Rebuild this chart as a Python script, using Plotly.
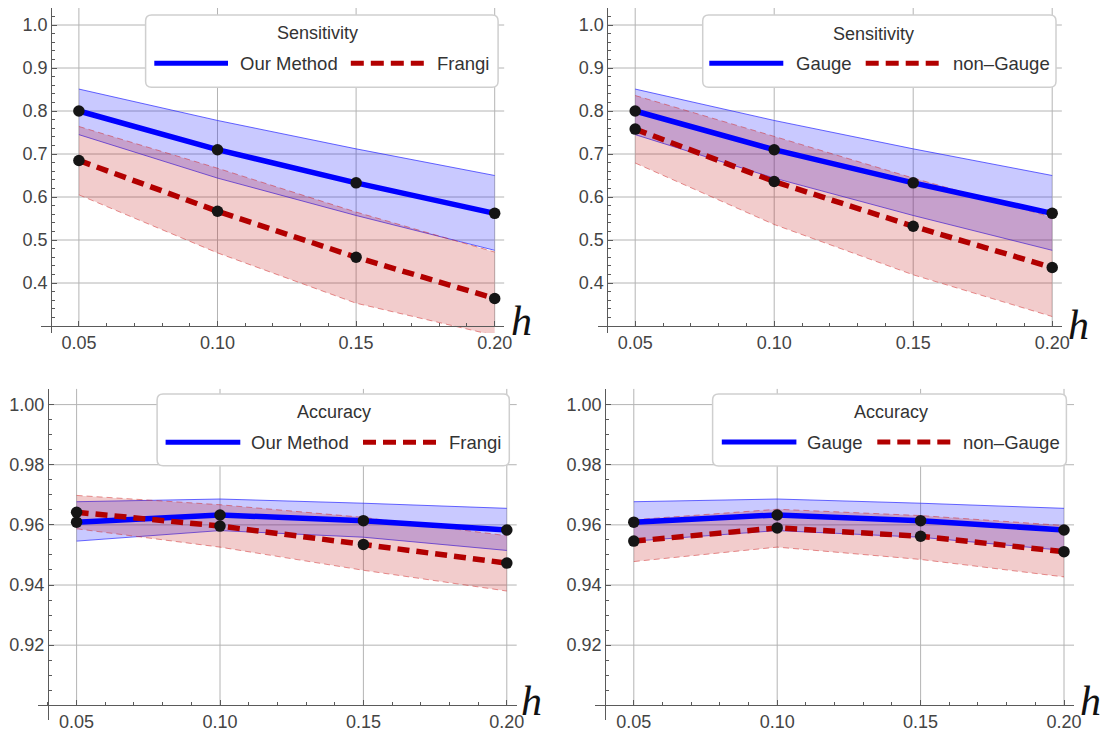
import plotly.graph_objects as go

# ---- data -------------------------------------------------------------
h_values = [0.05, 0.10, 0.15, 0.20]

# Sensitivity
sens_our_mean = [0.800, 0.710, 0.633, 0.562]
sens_our_lo = [0.745, 0.644, 0.557, 0.476]
sens_our_hi = [0.851, 0.778, 0.712, 0.650]

sens_frangi_mean = [0.685, 0.567, 0.460, 0.364]
sens_frangi_lo = [0.605, 0.470, 0.353, 0.278]
sens_frangi_hi = [0.764, 0.667, 0.565, 0.472]

sens_nongauge_mean = [0.758, 0.636, 0.532, 0.436]
sens_nongauge_lo = [0.679, 0.536, 0.419, 0.322]
sens_nongauge_hi = [0.836, 0.741, 0.644, 0.553]

# Accuracy
acc_our_mean = [0.9609, 0.9633, 0.9614, 0.9583]
acc_our_lo = [0.9546, 0.9581, 0.9559, 0.9515]
acc_our_hi = [0.9677, 0.9686, 0.9672, 0.9655]

acc_frangi_mean = [0.9642, 0.9596, 0.9535, 0.9473]
acc_frangi_lo = [0.9587, 0.9526, 0.9449, 0.9380]
acc_frangi_hi = [0.9698, 0.9667, 0.9625, 0.9564]

acc_nongauge_mean = [0.9546, 0.9590, 0.9562, 0.9511]
acc_nongauge_lo = [0.9478, 0.9526, 0.9485, 0.9427]
acc_nongauge_hi = [0.9617, 0.9652, 0.9631, 0.9598]

x_ticks = [0.05, 0.10, 0.15, 0.20]
x_tick_labels = ["0.05", "0.10", "0.15", "0.20"]
sens_ticks = [0.4, 0.5, 0.6, 0.7, 0.8, 0.9, 1.0]
sens_tick_labels = ["0.4", "0.5", "0.6", "0.7", "0.8", "0.9", "1.0"]
acc_ticks = [0.92, 0.94, 0.96, 0.98, 1.00]
acc_tick_labels = ["0.92", "0.94", "0.96", "0.98", "1.00"]

# ---- styling ----------------------------------------------------------
W, H = 1102, 731
BLUE = "rgb(0,0,255)"
RED = "rgb(178,0,0)"
BLUE_FILL = "rgba(0,0,255,0.21)"
RED_FILL = "rgba(190,0,0,0.20)"
BLUE_EDGE = "rgba(40,40,255,0.7)"
RED_EDGE = "rgba(210,40,40,0.5)"
GRID = "#b4b4b4"
AXIS = "#5a5a5a"
FONT = "Liberation Sans"
MAIN_DASH = "12px,7px"
TICK_FONT = dict(family=FONT, size=18, color="#444")

X_RANGE = [0.0365, 0.2035]


def px_x(p):
    return p / W


def px_y(p):
    return 1 - p / H


fig = go.Figure()
shapes = []
annotations = []

# panel geometry: pixel position of h=0.05, pixels per unit on x,
# pixel position of the horizontal axis, pixels per unit on y, y range, axis origin
panels = [
    dict(x05=78.9, xppu=2772, yax=326.0, yppu=430, yr=[0.2837, 1.0395], y0=0.3,
         yt=sens_ticks, ytl=sens_tick_labels, ymin_step=0.02,
         blue=(sens_our_mean, sens_our_lo, sens_our_hi),
         red=(sens_frangi_mean, sens_frangi_lo, sens_frangi_hi),
         title="Sensitivity", names=("Our Method", "Frangi"),
         box=(145.6, 15, 498.1, 87.3), tpos=(317.4, 33.3),
         bl=(154.3, 228.0, 63.3), l1=237.8, rl=(350.8, 426.2), l2=434.9,
         hpos=(521, 321)),
    dict(x05=635.2, xppu=2780, yax=326.0, yppu=430, yr=[0.2837, 1.0395], y0=0.3,
         yt=sens_ticks, ytl=sens_tick_labels, ymin_step=0.02,
         blue=(sens_our_mean, sens_our_lo, sens_our_hi),
         red=(sens_nongauge_mean, sens_nongauge_lo, sens_nongauge_hi),
         title="Sensitivity", names=("Gauge", "non–Gauge"),
         box=(702.7, 15, 1056.0, 87.3), tpos=(873.8, 34),
         bl=(709.3, 783.3, 63.3), l1=794.0, rl=(865.7, 940.0), l2=950.7,
         hpos=(1078, 325)),
    dict(x05=76.6, xppu=2868, yax=705.3, yppu=3007, yr=[0.895, 1.0053], y0=0.9,
         yt=acc_ticks, ytl=acc_tick_labels, ymin_step=0.005,
         blue=(acc_our_mean, acc_our_lo, acc_our_hi),
         red=(acc_frangi_mean, acc_frangi_lo, acc_frangi_hi),
         title="Accuracy", names=("Our Method", "Frangi"),
         box=(157.1, 394, 509.3, 465.7), tpos=(334.1, 411.7),
         bl=(165.6, 240.3, 442.3), l1=249.0, rl=(363.0, 438.4), l2=447.2,
         hpos=(531.4, 701)),
    dict(x05=633.8, xppu=2868, yax=705.3, yppu=3007, yr=[0.895, 1.0053], y0=0.9,
         yt=acc_ticks, ytl=acc_tick_labels, ymin_step=0.005,
         blue=(acc_our_mean, acc_our_lo, acc_our_hi),
         red=(acc_nongauge_mean, acc_nongauge_lo, acc_nongauge_hi),
         title="Accuracy", names=("Gauge", "non–Gauge"),
         box=(712.6, 394, 1066.4, 466), tpos=(890.6, 412),
         bl=(721.8, 796.4, 442), l1=805.2, rl=(877.3, 951.3), l2=961.1,
         hpos=(1090, 701)),
]


def rounded_box(x0, y0, x1, y1, r=6):
    X0, X1 = px_x(x0), px_x(x1)
    Y0, Y1 = px_y(y0), px_y(y1)
    rx, ry = r / W, r / H
    return (f"M{X0 + rx},{Y0} L{X1 - rx},{Y0} Q{X1},{Y0} {X1},{Y0 - ry} "
            f"L{X1},{Y1 + ry} Q{X1},{Y1} {X1 - rx},{Y1} "
            f"L{X0 + rx},{Y1} Q{X0},{Y1} {X0},{Y1 + ry} "
            f"L{X0},{Y0 - ry} Q{X0},{Y0} {X0 + rx},{Y0} Z")


layout_axes = {}
for i, p in enumerate(panels, start=1):
    xa = "x" if i == 1 else f"x{i}"
    ya = "y" if i == 1 else f"y{i}"
    xkey = "xaxis" if i == 1 else f"xaxis{i}"
    ykey = "yaxis" if i == 1 else f"yaxis{i}"

    left = p["x05"] + (X_RANGE[0] - 0.05) * p["xppu"]
    right = p["x05"] + (X_RANGE[1] - 0.05) * p["xppu"]
    bottom = p["yax"] + (p["y0"] - p["yr"][0]) * p["yppu"]
    top = p["yax"] - (p["yr"][1] - p["y0"]) * p["yppu"]
    yaxis_px = p["x05"] - 0.01 * p["xppu"]

    layout_axes[xkey] = dict(
        domain=[px_x(left), px_x(right)], range=X_RANGE,
        anchor="free", position=px_y(p["yax"]),
        tickmode="array", tickvals=x_ticks, ticktext=x_tick_labels,
        ticks="inside", ticklen=5, tickcolor=AXIS, tickwidth=1,
        minor=dict(ticks="inside", ticklen=3, tickcolor=AXIS, tickmode="linear",
                   tick0=0, dtick=0.01, showgrid=False),
        showline=True, linecolor=AXIS, linewidth=1,
        showgrid=False, zeroline=False, automargin=False,
        tickfont=TICK_FONT,
    )
    layout_axes[ykey] = dict(
        domain=[px_y(bottom), px_y(top)], range=p["yr"],
        anchor="free", position=px_x(yaxis_px),
        tickmode="array", tickvals=p["yt"], ticktext=p["ytl"],
        ticks="inside", ticklen=5, tickcolor=AXIS, tickwidth=1,
        minor=dict(ticks="inside", ticklen=3, tickcolor=AXIS, tickmode="linear",
                   tick0=0, dtick=p["ymin_step"], showgrid=False),
        showline=True, linecolor=AXIS, linewidth=1,
        showgrid=False, zeroline=False, automargin=False,
        tickfont=TICK_FONT,
    )

    # grid lines
    for xv in x_ticks:
        shapes.append(dict(type="line", xref=xa, yref=ya, x0=xv, x1=xv,
                           y0=p["y0"], y1=p["yr"][1], layer="below",
                           line=dict(color=GRID, width=1)))
    for yv in p["yt"]:
        shapes.append(dict(type="line", xref=xa, yref=ya, x0=0.04, x1=X_RANGE[1],
                           y0=yv, y1=yv, layer="below",
                           line=dict(color=GRID, width=1)))

    bm, blo, bhi = p["blue"]
    rm, rlo, rhi = p["red"]

    # bands
    fig.add_trace(go.Scatter(x=h_values, y=blo, xaxis=xa, yaxis=ya, mode="lines",
                             line=dict(color=BLUE_EDGE, width=1), showlegend=False,
                             hoverinfo="skip"))
    fig.add_trace(go.Scatter(x=h_values, y=bhi, xaxis=xa, yaxis=ya, mode="lines",
                             line=dict(color=BLUE_EDGE, width=1), fill="tonexty",
                             fillcolor=BLUE_FILL, showlegend=False, hoverinfo="skip"))
    fig.add_trace(go.Scatter(x=h_values, y=rlo, xaxis=xa, yaxis=ya, mode="lines",
                             line=dict(color=RED_EDGE, width=1, dash="6px,4px"),
                             showlegend=False, hoverinfo="skip"))
    fig.add_trace(go.Scatter(x=h_values, y=rhi, xaxis=xa, yaxis=ya, mode="lines",
                             line=dict(color=RED_EDGE, width=1, dash="6px,4px"),
                             fill="tonexty", fillcolor=RED_FILL, showlegend=False,
                             hoverinfo="skip"))
    # mean lines
    fig.add_trace(go.Scatter(x=h_values, y=bm, xaxis=xa, yaxis=ya, mode="lines",
                             line=dict(color=BLUE, width=5.5), name=p["names"][0],
                             showlegend=False))
    fig.add_trace(go.Scatter(x=h_values, y=rm, xaxis=xa, yaxis=ya, mode="lines",
                             line=dict(color=RED, width=5.5, dash=MAIN_DASH),
                             name=p["names"][1], showlegend=False))
    # points
    fig.add_trace(go.Scatter(x=h_values + h_values, y=bm + rm, xaxis=xa, yaxis=ya,
                             mode="markers", marker=dict(color="#151515", size=11.5),
                             showlegend=False, hoverinfo="skip"))

    # legend box
    bx0, by0, bx1, by1 = p["box"]
    shapes.append(dict(type="path", xref="paper", yref="paper",
                       path=rounded_box(bx0, by0, bx1, by1),
                       fillcolor="white", line=dict(color="#cfcfcf", width=1.5),
                       layer="above"))
    ly = p["bl"][2]
    shapes.append(dict(type="line", xref="paper", yref="paper",
                       x0=px_x(p["bl"][0]), x1=px_x(p["bl"][1]), y0=px_y(ly), y1=px_y(ly),
                       line=dict(color=BLUE, width=5), layer="above"))
    shapes.append(dict(type="line", xref="paper", yref="paper",
                       x0=px_x(p["rl"][0]), x1=px_x(p["rl"][1]), y0=px_y(ly), y1=px_y(ly),
                       line=dict(color=RED, width=5, dash="13px,7px"), layer="above"))
    annotations.append(dict(xref="paper", yref="paper", x=px_x(p["tpos"][0]),
                            y=px_y(p["tpos"][1]), text=p["title"], showarrow=False,
                            xanchor="center", yanchor="middle",
                            font=dict(family=FONT, size=18, color="#333")))
    annotations.append(dict(xref="paper", yref="paper", x=px_x(p["l1"]), y=px_y(ly),
                            text=p["names"][0], showarrow=False, xanchor="left",
                            yanchor="middle", font=dict(family=FONT, size=18.5, color="#333")))
    annotations.append(dict(xref="paper", yref="paper", x=px_x(p["l2"]), y=px_y(ly),
                            text=p["names"][1], showarrow=False, xanchor="left",
                            yanchor="middle", font=dict(family=FONT, size=18.5, color="#333")))
    # axis label
    annotations.append(dict(xref="paper", yref="paper", x=px_x(p["hpos"][0]),
                            y=px_y(p["hpos"][1]), text="<i>h</i>", showarrow=False,
                            xanchor="center", yanchor="middle",
                            font=dict(family="Liberation Serif", size=42, color="#111")))

fig.update_layout(
    width=W, height=H,
    margin=dict(l=0, r=0, t=0, b=0),
    paper_bgcolor="white", plot_bgcolor="white",
    showlegend=False,
    shapes=shapes, annotations=annotations,
    **layout_axes,
)

fig.write_html("out.html")
